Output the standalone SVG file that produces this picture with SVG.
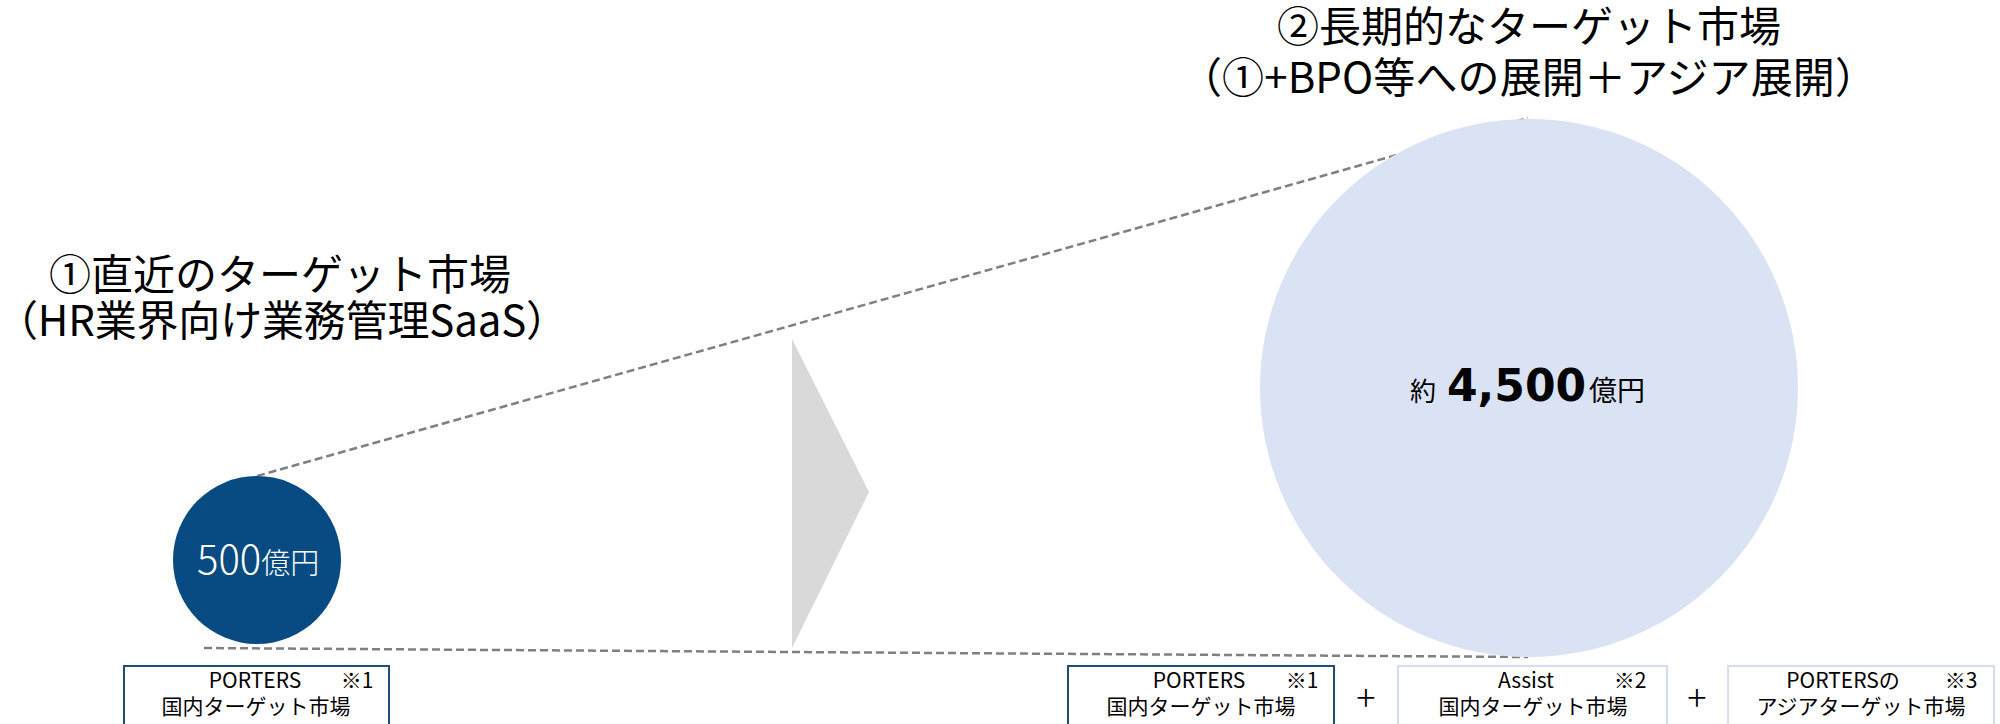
<svg xmlns="http://www.w3.org/2000/svg" width="2000" height="724" viewBox="0 0 2000 724">
  <style>
    .jp { font-family: "Noto Sans CJK JP", "Noto Sans", sans-serif; fill: #000; }
    .title { font-size: 42px; }
    .center { text-anchor: middle; }
    .lbl { font-size: 21px; }
    .mid { text-anchor: middle; }
    .plus { font-size: 36px; font-weight: 300; text-anchor: middle; }
    .guide { fill: none; stroke: #808080; stroke-width: 2.5; stroke-dasharray: 8 4; }
    .box-main { fill: #fff; stroke: #1f4e79; stroke-width: 2; }
    .box-sub { fill: #fff; stroke: #d3def1; stroke-width: 2; }
  </style>

  <!-- dashed guide lines linking the two market circles -->
  <g id="connectors">
    <line class="guide" x1="257" y1="476" x2="1528" y2="118"/>
    <line class="guide" x1="204" y1="648" x2="1528" y2="657"/>
  </g>

  <!-- headings -->
  <g id="title-near">
    <text class="jp title center" x="280" y="290">①直近のターゲット市場</text>
    <text class="jp title" x="-4" y="336" textLength="572" lengthAdjust="spacing">（HR業界向け業務管理SaaS）</text>
  </g>
  <g id="title-long">
    <text class="jp title center" x="1529" y="42">②長期的なターゲット市場</text>
    <text class="jp title" x="1180" y="93" textLength="697" lengthAdjust="spacing">（①+BPO等への展開＋アジア展開）</text>
  </g>

  <!-- near-term market -->
  <g id="circle-near">
    <circle cx="257" cy="560" r="84" fill="#084b83"/>
    <text class="jp" x="197" y="574" font-size="40" font-weight="300" style="fill:#fff">500<tspan font-size="29">億円</tspan></text>
  </g>

  <!-- expansion arrow -->
  <g id="arrow">
    <polygon points="792,339 869,492 792,648" fill="#d9d9d9"/>
  </g>

  <!-- long-term market -->
  <g id="circle-long">
    <circle cx="1529" cy="388" r="269" fill="#dae3f3"/>
    <text class="jp" x="1410" y="401" font-size="26">約</text>
    <text x="1447" y="401" font-family="DejaVu Sans, sans-serif" font-weight="bold" font-size="44" fill="#000">4,500</text>
    <text class="jp" x="1589" y="401" font-size="28">億円</text>
  </g>

  <!-- market breakdown boxes -->
  <g id="box-porters-domestic-near">
    <rect class="box-main" x="124" y="666" width="265" height="70"/>
    <text class="jp lbl mid" x="255" y="688">PORTERS</text>
    <text class="jp lbl mid" x="357" y="688">※1</text>
    <text class="jp lbl mid" x="256" y="714">国内ターゲット市場</text>
  </g>

  <g id="box-porters-domestic">
    <rect class="box-main" x="1068" y="666" width="266" height="70"/>
    <text class="jp lbl mid" x="1199" y="688">PORTERS</text>
    <text class="jp lbl mid" x="1302" y="688">※1</text>
    <text class="jp lbl mid" x="1201" y="714">国内ターゲット市場</text>
  </g>

  <g id="plus-1">
    <text class="jp plus" x="1366" y="711">+</text>
  </g>

  <g id="box-assist-domestic">
    <rect class="box-sub" x="1398" y="666" width="269" height="70"/>
    <text class="jp lbl mid" x="1526" y="688">Assist</text>
    <text class="jp lbl mid" x="1630" y="688">※2</text>
    <text class="jp lbl mid" x="1533" y="714">国内ターゲット市場</text>
  </g>

  <g id="plus-2">
    <text class="jp plus" x="1697" y="711">+</text>
  </g>

  <g id="box-porters-asia">
    <rect class="box-sub" x="1728" y="666" width="266" height="70"/>
    <text class="jp lbl mid" x="1843" y="688">PORTERSの</text>
    <text class="jp lbl mid" x="1961" y="688">※3</text>
    <text class="jp lbl mid" x="1861" y="714">アジアターゲット市場</text>
  </g>
</svg>
